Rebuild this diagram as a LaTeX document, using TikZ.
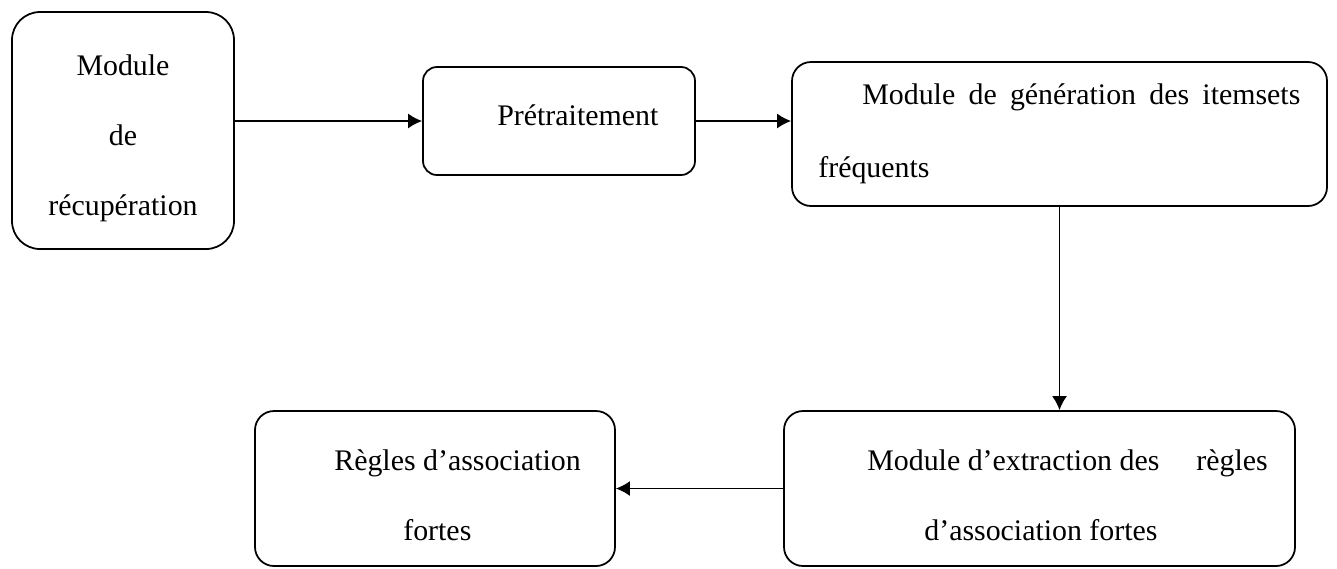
\documentclass[tikz,border=0pt]{standalone}
\usepackage{fontspec}
\setmainfont{Liberation Serif}
\usetikzlibrary{arrows.meta}

\tikzset{
    box/.style={draw, line width=1pt, rounded corners=0.38cm, inner sep=0pt},
    arr/.style={line width=1pt, -{Latex[length=2.8mm,width=3mm]}},
    txt/.style={inner sep=0pt, anchor=base west}
}

\begin{document}
\begin{tikzpicture}
    \fontsize{17}{20}\selectfont
    \useasboundingbox (0,0) rectangle (26.74,-11.36);
    % boxes
    \node[box, rounded corners=0.56cm, minimum width=4.44cm, minimum height=4.74cm] (recup) at (2.46,-2.61) {};
    \node[box, rounded corners=0.28cm, minimum width=5.44cm, minimum height=2.16cm] (pretrait) at (11.18,-2.42) {};
    \node[box, minimum width=10.70cm, minimum height=2.88cm] (generation) at (21.19,-2.68) {};
    \node[box, minimum width=10.22cm, minimum height=3.10cm] (extraction) at (20.79,-9.77) {};
    \node[box, minimum width=7.20cm, minimum height=3.10cm] (regles) at (8.70,-9.77) {};
    % texts
    \node[txt, anchor=base] (recupA) at (2.46,-1.50) {Module};
    \node[txt, anchor=base] (recupB) at (2.46,-2.90) {de};
    \node[txt, anchor=base] (recupC) at (2.46,-4.30) {récupération};
    \node[txt] (pretraitA) at (9.94,-2.50) {Prétraitement};
    \node[txt] (generationA) at (17.24,-2.08) {\makebox[8.76cm][s]{Module de génération des itemsets}};
    \node[txt] (generationB) at (16.36,-3.54) {fréquents};
    \node[txt] (extractionA) at (17.34,-9.40) {Module d’extraction des\hspace{0.74cm}règles};
    \node[txt] (extractionB) at (18.48,-10.80) {d’association fortes};
    \node[txt] (reglesA) at (6.68,-9.40) {Règles d’association};
    \node[txt] (reglesB) at (8.06,-10.80) {fortes};
    % arrows
    \draw[arr] (recup.east |- pretrait.west) -- (pretrait.west);
    \draw[arr] (pretrait.east) -- (pretrait.east -| generation.west);
    \draw[arr] (generation.south) -- (generation.south |- extraction.north);
    \draw[arr] (extraction.west) -- (extraction.west -| regles.east);
\end{tikzpicture}
\end{document}
